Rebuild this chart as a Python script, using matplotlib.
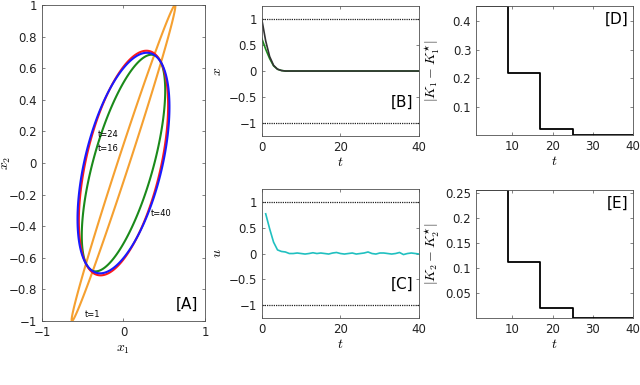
import numpy as np
import matplotlib
matplotlib.use("Agg")
import matplotlib.pyplot as plt
from matplotlib.patches import Polygon

plt.rcParams['font.family'] = ['DejaVu Sans']
plt.rcParams['mathtext.fontset'] = 'cm'

# ---------------- data ----------------
# Panel A: ellipse shape matrices S (x^T S^-1 x = 1): [S11, S12, S22]
ell_times = ["t=1", "t=16", "t=24", "t=40"]
ell_S11 = [0.405, 0.262, 0.300, 0.318]
ell_S12 = [0.632, 0.235, 0.200, 0.200]
ell_S22 = [1.000, 0.470, 0.505, 0.487]
ell_colors = ["#f5a030", "#1a8a1a", "#ff1a1a", "#1a1aff"]
label_x = [-0.48, -0.31, -0.32, 0.33]
label_y = [-0.96, 0.09, 0.18, -0.32]

# Panel B: state trajectories
t_x = [0, 1, 2, 3, 4, 5, 6, 8, 10, 15, 20, 25, 30, 35, 40]
x1_vals = [0.63, 0.42, 0.24, 0.10, 0.035, 0.01, 0.0, 0.0, 0.0, 0.0, 0.0, 0.0, 0.0, 0.0, 0.0]
x2_vals = [1.0, 0.58, 0.28, 0.11, 0.035, 0.01, 0.0, 0.0, 0.0, 0.0, 0.0, 0.0, 0.0, 0.0, 0.0]

# Panel C: control input
t_u = list(range(1, 41))
u_vals = [0.77, 0.48, 0.22, 0.07, 0.04, 0.03, 0.0, 0.0, 0.01, 0.0, -0.01, 0.0,
          0.015, 0.0, 0.01, 0.0, -0.01, 0.01, 0.02, 0.0, -0.01, 0.0, 0.01, -0.01,
          0.0, 0.01, 0.03, 0.0, -0.01, 0.01, 0.01, 0.0, -0.01, 0.0, 0.02, -0.02,
          0.0, 0.01, 0.0, -0.01]
bounds = [1.0, -1.0]

# Panels D and E: gain error steps
t_step = [1, 9, 17, 25, 40]
k1_err = [0.453, 0.217, 0.022, 0.0, 0.0]
k2_err = [0.256, 0.112, 0.021, 0.0, 0.0]

# ---------------- figure ----------------
fig = plt.figure(figsize=(6.4, 3.85), dpi=100)
spine_col = '#505050'
tick_fs = 8.5
lab_fs = 10


def style(ax):
    for s in ax.spines.values():
        s.set_color(spine_col)
        s.set_linewidth(0.6)
    ax.tick_params(direction='in', top=True, right=True, length=2.5,
                   width=0.5, colors=spine_col, labelsize=tick_fs,
                   labelcolor='#222222')


# Panel A
axA = fig.add_axes([0.0656, 0.166, 0.2547, 0.821])
th = np.linspace(0, 2 * np.pi, 400, endpoint=False)
for s11, s12, s22, col in zip(ell_S11, ell_S12, ell_S22, ell_colors):
    S = np.array([[s11, s12], [s12, s22]])
    L = np.linalg.cholesky(S)
    pts = L @ np.vstack([np.cos(th), np.sin(th)])
    axA.add_patch(Polygon(pts.T, closed=True, fill=False, edgecolor=col,
                          lw=1.5, joinstyle='round'))
for lab, lx, ly in zip(ell_times, label_x, label_y):
    axA.text(lx, ly, lab, fontsize=6, ha='left', va='center')
axA.set_xlim(-1, 1)
axA.set_ylim(-1, 1)
axA.set_xticks([-1, 0, 1])
axA.set_yticks(np.round(np.arange(-1, 1.01, 0.2), 1))
axA.set_yticklabels(['−1', '−0.8', '−0.6', '−0.4', '−0.2', '0', '0.2', '0.4', '0.6', '0.8', '1'])
axA.set_xticklabels(['−1', '0', '1'])
axA.set_xlabel('$x_1$', fontsize=lab_fs, labelpad=2)
axA.set_ylabel('$x_2$', fontsize=lab_fs)
axA.yaxis.set_label_coords(-0.175, 0.5)
axA.text(0.96, 0.03, '[A]', transform=axA.transAxes, ha='right', va='bottom', fontsize=11)
style(axA)

# Panel B
axB = fig.add_axes([0.409, 0.647, 0.246, 0.337])
for b in bounds:
    axB.axhline(b, color='#222222', ls=(0, (1, 0.8)), lw=0.9)
axB.plot(t_x, x1_vals, color='#1a8a1a', lw=1.2)
axB.plot(t_x, x2_vals, color='#333333', lw=1.2)
axB.set_xlim(0, 40)
axB.set_ylim(-1.25, 1.25)
axB.set_xticks([0, 20, 40])
axB.set_yticks([-1, -0.5, 0, 0.5, 1])
axB.set_yticklabels(['−1', '−0.5', '0', '0.5', '1'])
axB.set_xlabel('$t$', fontsize=lab_fs, labelpad=1)
axB.set_ylabel('$x$', fontsize=lab_fs)
axB.yaxis.set_label_coords(-0.24, 0.5)
axB.text(0.96, 0.2, '[B]', transform=axB.transAxes, ha='right', va='bottom', fontsize=11)
style(axB)

# Panel C
axC = fig.add_axes([0.409, 0.174, 0.246, 0.335])
for b in bounds:
    axC.axhline(b, color='#222222', ls=(0, (1, 0.8)), lw=0.9)
axC.plot(t_u, u_vals, color='#20c0c0', lw=1.2)
axC.set_xlim(0, 40)
axC.set_ylim(-1.25, 1.25)
axC.set_xticks([0, 20, 40])
axC.set_yticks([-1, -0.5, 0, 0.5, 1])
axC.set_yticklabels(['−1', '−0.5', '0', '0.5', '1'])
axC.set_xlabel('$t$', fontsize=lab_fs, labelpad=1)
axC.set_ylabel('$u$', fontsize=lab_fs)
axC.yaxis.set_label_coords(-0.24, 0.5)
axC.text(0.96, 0.2, '[C]', transform=axC.transAxes, ha='right', va='bottom', fontsize=11)
style(axC)

# Panel D
axD = fig.add_axes([0.744, 0.649, 0.245, 0.335])
axD.step(t_step, k1_err, where='post', color='black', lw=1.3)
axD.set_xlim(1, 40)
axD.set_ylim(0, 0.453)
axD.set_xticks([10, 20, 30, 40])
axD.set_yticks([0.1, 0.2, 0.3, 0.4])
axD.set_yticklabels(['0.1', '0.2', '0.3', '0.4'])
axD.set_xlabel('$t$', fontsize=lab_fs, labelpad=1)
axD.set_ylabel('$|K_1-K_1^{\\star}|$', fontsize=lab_fs)
axD.yaxis.set_label_coords(-0.22, 0.5)
axD.text(0.97, 0.96, '[D]', transform=axD.transAxes, ha='right', va='top', fontsize=11)
style(axD)

# Panel E
axE = fig.add_axes([0.744, 0.174, 0.245, 0.332])
axE.step(t_step, k2_err, where='post', color='black', lw=1.3)
axE.set_xlim(1, 40)
axE.set_ylim(0, 0.256)
axE.set_xticks([10, 20, 30, 40])
axE.set_yticks([0.05, 0.1, 0.15, 0.2, 0.25])
axE.set_yticklabels(['0.05', '0.1', '0.15', '0.2', '0.25'])
axE.set_xlabel('$t$', fontsize=lab_fs, labelpad=1)
axE.set_ylabel('$|K_2-K_2^{\\star}|$', fontsize=lab_fs)
axE.yaxis.set_label_coords(-0.22, 0.5)
axE.text(0.97, 0.96, '[E]', transform=axE.transAxes, ha='right', va='top', fontsize=11)
style(axE)

fig.savefig('out.png', dpi=100)
